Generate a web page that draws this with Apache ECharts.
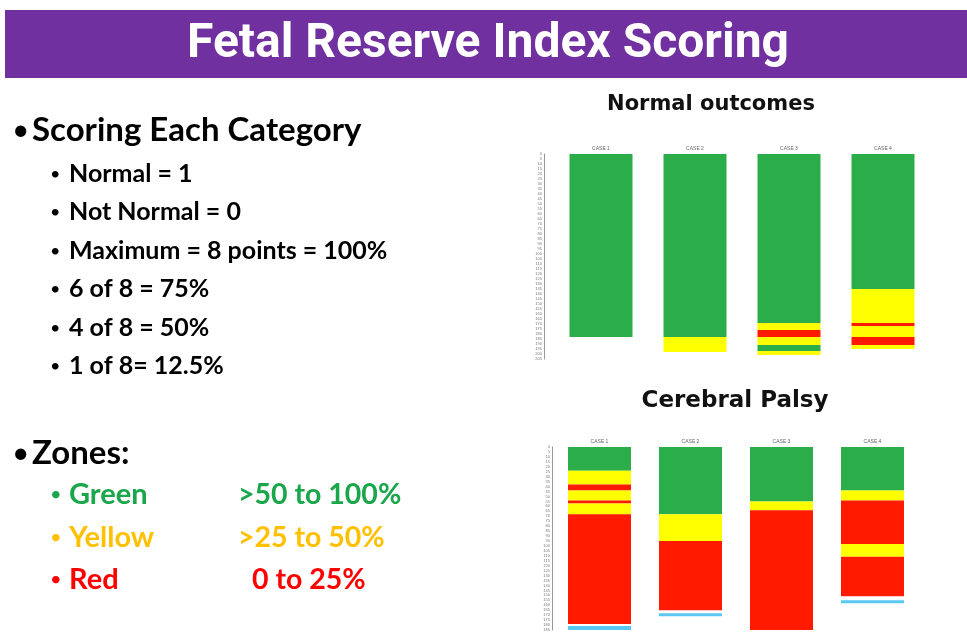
<!DOCTYPE html>
<html>
<head>
<meta charset="utf-8">
<script src="https://cdn.jsdelivr.net/npm/echarts@6/dist/echarts.min.js"></script>
<style>
  html, body { margin: 0; padding: 0; background: #fff; }
  #slide { width: 967px; height: 632px; }
</style>
</head>
<body>
<div id="slide"></div>
<script>
// cases shown in each panel
const caseNames = ['CASE 1', 'CASE 2', 'CASE 3', 'CASE 4']
// zone of each segment, top to bottom (g = green, y = yellow, r = red, b = blue, - = gap)
const normalZones = [['g'], ['g', 'y'], ['g', 'y', 'r', 'y', 'g', 'y'], ['g', 'y', 'r', 'y', 'r', 'y']]
// length of each segment in minutes
const normalMinutes = [[183], [183, 15], [169, 7, 7, 8, 6, 4], [135, 34, 3, 11, 8, 4]]
const cpZones = [
  ['g', 'y', 'r', 'y', 'r', 'y', 'r', '-', 'b'],
  ['g', 'y', 'r', '-', 'b'],
  ['g', 'y', 'r'],
  ['g', 'y', 'r', 'y', 'r', '-', 'b']
]
const cpMinutes = [
  [24, 14, 6, 10, 3, 11, 111, 2, 4],
  [68, 27, 70, 3, 3],
  [55, 9, 121],
  [44, 10, 44, 13, 40, 4, 3]
]
// left side text
const scoringLines = ['Normal = 1', 'Not Normal = 0', 'Maximum = 8 points = 100%', '6 of 8 = 75%', '4 of 8 = 50%', '1 of 8= 12.5%']
const zoneNames = ['Green', 'Yellow', 'Red']
const zoneRanges = ['>50 to 100%', '>25 to 50%', '0 to 25%']

const zoneColors = { g: '#2bae4a', y: '#ffff00', r: '#ff1a00', b: '#5ac8f2', '-': 'rgba(0,0,0,0)' }
const textColors = ['#1aa64a', '#ffc000', '#ff0000']

function buildSeries(zones, minutes, gridIdx, stackName) {
  const maxSeg = Math.max(...zones.map(z => z.length))
  const list = []
  for (let k = 0; k < maxSeg; k++) {
    list.push({
      type: 'bar',
      stack: stackName,
      xAxisIndex: gridIdx,
      yAxisIndex: gridIdx,
      barWidth: 63,
      silent: true,
      data: zones.map((z, i) => {
        if (k >= z.length) return '-'
        return { value: minutes[i][k], itemStyle: { color: zoneColors[z[k]] } }
      })
    })
  }
  return list
}

const chartDom = document.getElementById('slide')
const myChart = echarts.init(chartDom)

const graphics = [
  // purple banner
  { type: 'rect', shape: { x: 5, y: 10, width: 962, height: 68 }, style: { fill: '#7030a0' } },
  {
    type: 'text', x: 488, y: 45,
    style: {
      text: 'Fetal Reserve Index Scoring', fill: '#fff', align: 'center', verticalAlign: 'middle',
      fontSize: 48, fontWeight: 'bold', fontFamily: 'Roboto, sans-serif'
    }
  },
  // headings
  { type: 'text', x: 12, y: 130, style: { text: '•', fill: '#000', fontSize: 30, verticalAlign: 'middle', fontFamily: 'Lato' } },
  { type: 'text', x: 32, y: 130, style: { text: 'Scoring Each Category', fill: '#000', fontSize: 33, fontWeight: 'bold', verticalAlign: 'middle', fontFamily: 'Lato' } },
  { type: 'text', x: 12, y: 453, style: { text: '•', fill: '#000', fontSize: 30, verticalAlign: 'middle', fontFamily: 'Lato' } },
  { type: 'text', x: 32, y: 453, style: { text: 'Zones:', fill: '#000', fontSize: 33, fontWeight: 'bold', verticalAlign: 'middle', fontFamily: 'Lato' } },
  // chart titles
  { type: 'text', x: 711, y: 105, style: { text: 'Normal outcomes', fill: '#111', fontSize: 21, fontWeight: 'bold', align: 'center', verticalAlign: 'middle', fontFamily: 'DejaVu Sans' } },
  { type: 'text', x: 735, y: 401, style: { text: 'Cerebral Palsy', fill: '#111', fontSize: 23, fontWeight: 'bold', align: 'center', verticalAlign: 'middle', fontFamily: 'DejaVu Sans' } }
]
const rowY = [174, 212, 251, 289, 328, 366]
scoringLines.forEach((t, i) => {
  graphics.push({ type: 'text', x: 50, y: rowY[i], style: { text: '•', fill: '#000', fontSize: 18, verticalAlign: 'middle', fontFamily: 'Lato' } })
  graphics.push({ type: 'text', x: 69, y: rowY[i], style: { text: t, fill: '#000', fontSize: 25, fontWeight: 'bold', verticalAlign: 'middle', fontFamily: 'Lato' } })
})
const zoneY = [495, 538, 580]
const rangeX = [238, 238, 252]
zoneNames.forEach((t, i) => {
  graphics.push({ type: 'text', x: 50, y: zoneY[i], style: { text: '•', fill: textColors[i], fontSize: 20, verticalAlign: 'middle', fontFamily: 'Lato' } })
  graphics.push({ type: 'text', x: 69, y: zoneY[i], style: { text: t, fill: textColors[i], fontSize: 29, fontWeight: 'bold', verticalAlign: 'middle', fontFamily: 'Lato' } })
  graphics.push({ type: 'text', x: rangeX[i], y: zoneY[i], style: { text: zoneRanges[i], fill: textColors[i], fontSize: 28.5, fontWeight: 'bold', verticalAlign: 'middle', fontFamily: 'Lato' } })
})

const yAxisBase = {
  type: 'value',
  inverse: true,
  min: 0,
  interval: 5,
  offset: 10,
  splitLine: { show: false },
  axisTick: { show: false },
  axisLine: { show: true, lineStyle: { color: '#999', width: 1 } },
  axisLabel: { fontSize: 4, color: '#777', margin: 2 }
}
const xAxisBase = {
  type: 'category',
  data: caseNames,
  position: 'top',
  axisLine: { show: false },
  axisTick: { show: false },
  axisLabel: { fontSize: 5, color: '#666', margin: 3 }
}

const option = {
  animation: false,
  graphic: graphics,
  grid: [
    { left: 554, top: 154, width: 376, height: 205 },
    { left: 554, top: 447, width: 364, height: 185 }
  ],
  xAxis: [
    Object.assign({ gridIndex: 0 }, xAxisBase),
    Object.assign({ gridIndex: 1 }, xAxisBase)
  ],
  yAxis: [
    Object.assign({ gridIndex: 0, max: 205 }, yAxisBase),
    Object.assign({ gridIndex: 1, max: 185 }, yAxisBase, { offset: 2 })
  ],
  series: buildSeries(normalZones, normalMinutes, 0, 'normal')
    .concat(buildSeries(cpZones, cpMinutes, 1, 'cp'))
}
myChart.setOption(option)
</script>
</body>
</html>
